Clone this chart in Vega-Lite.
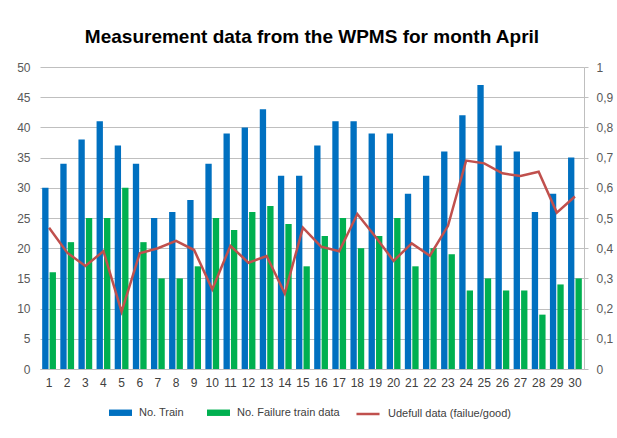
{
  "$schema": "https://vega.github.io/schema/vega-lite/v6.json",
  "width": 544,
  "height": 302,
  "autosize": {"type": "none"},
  "padding": {"left": 40, "right": 33, "top": 67, "bottom": 69},
  "background": "white",
  "title": {
    "text": "Measurement data from the WPMS for month April",
    "font": "Liberation Sans",
    "fontSize": 19,
    "fontWeight": "bold",
    "color": "#000000",
    "anchor": "middle",
    "offset": 14
  },
  "config": {
    "view": {"stroke": null},
    "axis": {"labelFont": "Liberation Sans", "labelFontSize": 12, "labelColor": "#595959"},
    "legend": {
      "labelFont": "Liberation Sans",
      "labelFontSize": 11,
      "labelColor": "#404040",
      "layout": {"bottom": {"anchor": "middle", "direction": "horizontal", "margin": 20}}
    }
  },
  "data": {
    "values": [
      {"day": 1, "train": 30, "failure": 16, "ratio": 0.468},
      {"day": 2, "train": 34, "failure": 21, "ratio": 0.385},
      {"day": 3, "train": 38, "failure": 25, "ratio": 0.341},
      {"day": 4, "train": 41, "failure": 25, "ratio": 0.39},
      {"day": 5, "train": 37, "failure": 30, "ratio": 0.19},
      {"day": 6, "train": 34, "failure": 21, "ratio": 0.383},
      {"day": 7, "train": 25, "failure": 15, "ratio": 0.4},
      {"day": 8, "train": 26, "failure": 15, "ratio": 0.424},
      {"day": 9, "train": 28, "failure": 17, "ratio": 0.394},
      {"day": 10, "train": 34, "failure": 25, "ratio": 0.264},
      {"day": 11, "train": 39, "failure": 23, "ratio": 0.408},
      {"day": 12, "train": 40, "failure": 26, "ratio": 0.352},
      {"day": 13, "train": 43, "failure": 27, "ratio": 0.374},
      {"day": 14, "train": 32, "failure": 24, "ratio": 0.25},
      {"day": 15, "train": 32, "failure": 17, "ratio": 0.468},
      {"day": 16, "train": 37, "failure": 22, "ratio": 0.405},
      {"day": 17, "train": 41, "failure": 25, "ratio": 0.39},
      {"day": 18, "train": 41, "failure": 20, "ratio": 0.513},
      {"day": 19, "train": 39, "failure": 22, "ratio": 0.438},
      {"day": 20, "train": 39, "failure": 25, "ratio": 0.358},
      {"day": 21, "train": 29, "failure": 17, "ratio": 0.416},
      {"day": 22, "train": 32, "failure": 20, "ratio": 0.375},
      {"day": 23, "train": 36, "failure": 19, "ratio": 0.474},
      {"day": 24, "train": 42, "failure": 13, "ratio": 0.69},
      {"day": 25, "train": 47, "failure": 15, "ratio": 0.681},
      {"day": 26, "train": 37, "failure": 13, "ratio": 0.648},
      {"day": 27, "train": 36, "failure": 13, "ratio": 0.639},
      {"day": 28, "train": 26, "failure": 9, "ratio": 0.653},
      {"day": 29, "train": 29, "failure": 14, "ratio": 0.518},
      {"day": 30, "train": 35, "failure": 15, "ratio": 0.571}
    ]
  },
  "layer": [
    {
      "transform": [{"fold": ["train", "failure"], "as": ["series", "count"]}],
      "mark": {"type": "bar"},
      "encoding": {
        "x": {
          "field": "day",
          "type": "ordinal",
          "scale": {"paddingInner": 0.24, "paddingOuter": 0.12},
          "axis": {"title": null, "labelAngle": 0, "ticks": false, "domainColor": "#BFBFBF", "labelPadding": 8, "labelColor": "#404040"}
        },
        "xOffset": {"field": "series", "sort": ["train", "failure"], "scale": {"paddingInner": 0.15}},
        "y": {
          "field": "count",
          "type": "quantitative",
          "scale": {"domain": [0, 50]},
          "axis": {"title": null, "tickCount": 10, "grid": true, "gridColor": "#BFBFBF", "domain": false, "ticks": false, "labelPadding": 10}
        },
        "fill": {
          "field": "series",
          "scale": {"domain": ["train", "failure"], "range": ["#0070C0", "#00B050"]},
          "legend": {
            "title": null,
            "orient": "bottom",
            "direction": "horizontal",
            "symbolType": "M-1.8,-0.5L1.8,-0.5L1.8,0.5L-1.8,0.5Z",
            "symbolSize": 164,
            "symbolStrokeWidth": 0,
            "columnPadding": 22,
            "labelOffset": 12,
            "labelExpr": "datum.value == 'train' ? 'No. Train' : 'No. Failure train data'"
          }
        }
      }
    },
    {
      "mark": {"type": "line", "strokeWidth": 2.5},
      "encoding": {
        "x": {"field": "day", "type": "ordinal"},
        "y": {
          "field": "ratio",
          "type": "quantitative",
          "scale": {"domain": [0, 1]},
          "axis": {"orient": "right", "title": null, "tickCount": 10, "grid": false, "domainColor": "#BFBFBF", "tickColor": "#BFBFBF", "ticks": true, "tickSize": 4, "labelPadding": 8, "labelExpr": "replace(toString(datum.value), '.', ',')"}
        },
        "stroke": {
          "datum": "Udefull data (failue/good)",
          "scale": {"range": ["#C0504D"]},
          "legend": {"title": null, "orient": "bottom", "symbolType": "M-1.8,0L1.8,0", "symbolSize": 164, "symbolStrokeWidth": 2.5, "labelOffset": 12}
        }
      }
    }
  ],
  "resolve": {"scale": {"y": "independent", "fill": "independent", "stroke": "independent"}}
}
